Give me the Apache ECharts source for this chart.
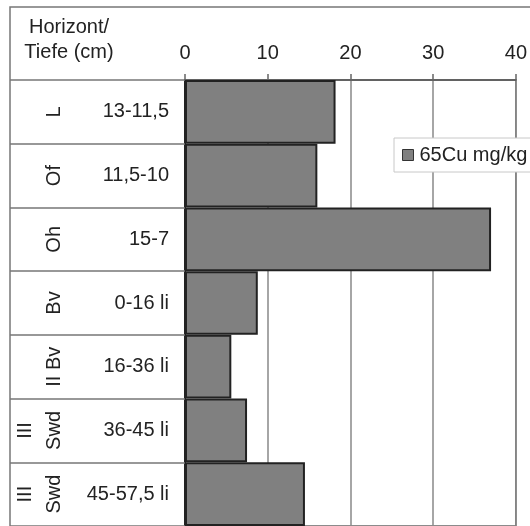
<!DOCTYPE html>
<html>
<head>
<meta charset="utf-8">
<script src="https://cdn.jsdelivr.net/npm/echarts@6/dist/echarts.min.js"></script>
<style>
html,body{margin:0;padding:0;background:#fff;}
#c{width:530px;height:526px;}
</style>
</head>
<body>
<div id="c"></div>
<script>
var horizons = ["L", "Of", "Oh", "Bv", "II Bv", "III\nSwd", "III\nSwd"];
var depths = ["13-11,5", "11,5-10", "15-7", "0-16 li", "16-36 li", "36-45 li", "45-57,5 li"];
var cuValues = [18.2, 16.0, 37.0, 8.8, 5.6, 7.5, 14.5];
var seriesName = "65Cu mg/kg";
var headerText = "Horizont/\nTiefe (cm)";

var FONT = "'Liberation Sans', Arial, sans-serif";
var FS = 20;
var chart = echarts.init(document.getElementById('c'), null, {renderer: 'canvas'});
chart.setOption({
  animation: false,
  backgroundColor: '#fff',
  textStyle: {fontFamily: FONT, color: '#222'},
  title: {
    text: headerText,
    left: 69, top: 15, textAlign: 'center', padding: 0,
    textStyle: {fontFamily: FONT, fontSize: FS, fontWeight: 'normal', color: '#222', lineHeight: 25, align: 'center'}
  },
  graphic: [{
    type: 'rect', silent: true, z: -1,
    shape: {x: 10, y: 7, width: 700, height: 700},
    style: {fill: 'none', stroke: '#777', lineWidth: 1.5}
  }],
  legend: {
    left: 394, top: 138,
    orient: 'horizontal',
    padding: [7, 20, 7, 8],
    itemWidth: 11, itemHeight: 11,
    backgroundColor: '#fff', borderColor: '#c8c8c8', borderWidth: 1,
    textStyle: {fontFamily: FONT, fontSize: FS, color: '#222', padding: [0, 0, 0, 1]},
    data: [{name: seriesName, icon: 'rect', itemStyle: {color: '#808080', borderColor: '#333', borderWidth: 1}}]
  },
  grid: {left: 185, top: 80, right: 11, height: 448, show: true, borderColor: '#666', borderWidth: 1.5, backgroundColor: 'transparent'},
  xAxis: {
    type: 'value', position: 'top', min: 0, max: 40, interval: 10,
    axisLine: {show: true, lineStyle: {color: '#555', width: 1.5}},
    axisTick: {show: true, inside: false, length: 6, lineStyle: {color: '#666', width: 1.5}},
    axisLabel: {fontSize: FS, color: '#222', margin: 17, fontFamily: FONT},
    splitLine: {show: true, lineStyle: {color: '#888', width: 1.5}}
  },
  yAxis: [{
    type: 'category', data: depths, inverse: true, position: 'left',
    axisLine: {show: true, lineStyle: {color: '#222', width: 2}},
    axisTick: {show: true, length: 175, lineStyle: {color: '#777', width: 1.5}},
    axisLabel: {fontSize: FS, color: '#222', margin: 16, fontFamily: FONT},
    splitLine: {show: false}
  }, {
    type: 'category', data: horizons, inverse: true, position: 'left', offset: 0,
    axisLine: {show: false}, axisTick: {show: false},
    axisLabel: {fontSize: FS, color: '#222', rotate: 90, margin: 116, lineHeight: 29, fontFamily: FONT, interval: 0},
    splitLine: {show: false}
  }],
  series: [{
    name: seriesName, type: 'bar', yAxisIndex: 0,
    data: cuValues, barCategoryGap: '0%',
    itemStyle: {color: '#808080', borderColor: '#222', borderWidth: 2},
    z: 3
  }]
});
</script>
</body>
</html>
